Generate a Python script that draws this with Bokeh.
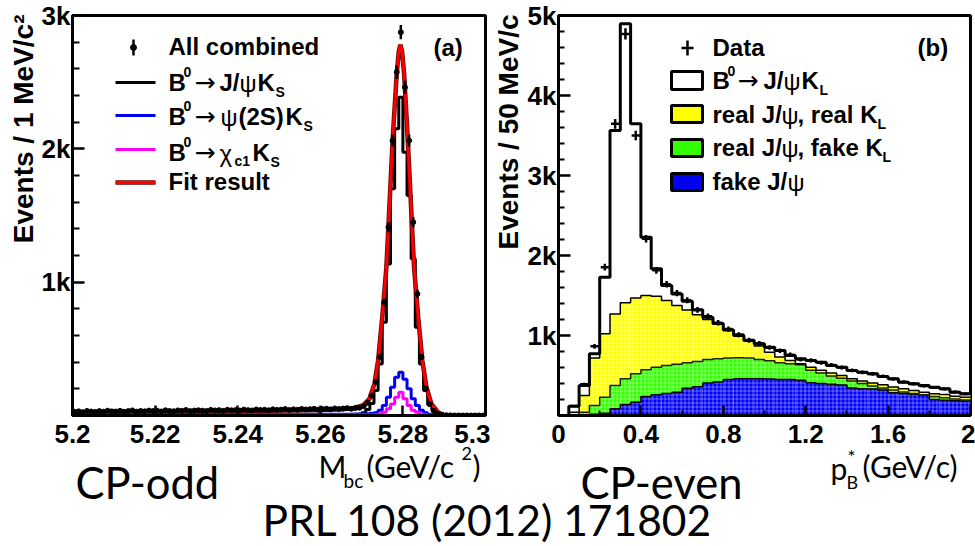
import numpy as np
from bokeh.plotting import figure
from bokeh.models import Range1d, FixedTicker, GridBox, Label, Row
from bokeh.embed import file_html
from bokeh.resources import INLINE

SANS = "Liberation Sans"
BODY = "Lato"
ARROW_FONT = "DejaVu Sans"

# ---------------- panel (a): M_bc of the CP-odd sample, 1 MeV bins ----------------
MBC_START = 5.200
MBC_BIN = 0.001

mbc_data = [
    28, 31, 25, 34, 30, 27, 33, 29, 36, 31,
    30, 35, 28, 33, 38, 29, 34, 31, 37, 33,
    36, 30, 39, 34, 32, 38, 35, 41, 33, 37,
    39, 36, 34, 42, 38, 40, 35, 43, 39, 41,
    37, 44, 40, 38, 45, 41, 43, 39, 46, 42,
    44, 48, 41, 46, 43, 49, 45, 47, 50, 44,
    48, 51, 46, 53, 49, 52, 55, 50, 56, 58,
    70, 95, 150, 250, 440, 850, 1412, 2062, 2575, 2875,
    2462, 2062, 1450, 912, 440, 200, 85, 35, 12, 5,
    2, 1, 0, 0, 0, 0, 0, 0, 0, 0,
]
mbc_jpsi_ks = [
    0, 0, 0, 0, 0, 0, 0, 0, 0, 0,
    0, 0, 0, 0, 0, 0, 0, 0, 0, 0,
    0, 0, 0, 0, 0, 0, 0, 0, 0, 0,
    0, 0, 0, 0, 0, 0, 0, 0, 0, 0,
    0, 0, 0, 0, 0, 0, 0, 0, 0, 0,
    0, 0, 0, 0, 0, 0, 0, 0, 0, 1,
    1, 1, 1, 1, 2, 2, 3, 4, 6, 10,
    20, 45, 90, 187, 387, 700, 1137, 1700, 2150, 2387,
    1975, 1650, 1175, 662, 387, 187, 80, 40, 15, 5,
    0, 0, 0, 0, 0, 0, 0, 0, 0, 0,
]
mbc_psi2s_ks = [
    8, 8, 8, 8, 8, 8, 8, 8, 8, 8,
    8, 8, 8, 8, 8, 8, 8, 8, 8, 8,
    8, 8, 8, 8, 8, 8, 8, 8, 8, 8,
    9, 9, 9, 9, 9, 9, 9, 9, 9, 9,
    9, 9, 9, 9, 9, 9, 9, 9, 9, 9,
    9, 9, 9, 9, 9, 9, 9, 9, 9, 9,
    10, 10, 10, 10, 10, 10, 10, 10, 11, 11,
    12, 14, 16, 20, 40, 75, 137, 212, 287, 325,
    272, 200, 125, 75, 40, 20, 10, 5, 2, 0,
    0, 0, 0, 0, 0, 0, 0, 0, 0, 0,
]
mbc_chic1_ks = [
    3, 3, 3, 3, 3, 3, 3, 3, 3, 3,
    3, 3, 3, 3, 3, 3, 3, 3, 3, 3,
    3, 3, 3, 3, 3, 3, 3, 3, 3, 3,
    3, 3, 3, 3, 3, 3, 3, 3, 3, 3,
    3, 3, 3, 3, 3, 3, 3, 3, 3, 3,
    3, 3, 3, 3, 3, 3, 3, 3, 3, 3,
    3, 3, 3, 3, 3, 3, 3, 3, 3, 3,
    3, 3, 4, 6, 12, 25, 50, 87, 137, 175,
    125, 75, 40, 25, 12, 6, 3, 1, 0, 0,
    0, 0, 0, 0, 0, 0, 0, 0, 0, 0,
]
fit_mbc = [5.200, 5.210, 5.220, 5.230, 5.240, 5.250, 5.260, 5.265, 5.268,
           5.2703, 5.2719, 5.2731, 5.2740, 5.2750, 5.2760, 5.2768, 5.2776,
           5.2785, 5.2790, 5.2794, 5.2798, 5.2803, 5.2811, 5.2819, 5.2827,
           5.2837, 5.2847, 5.2857, 5.2869, 5.2885, 5.2900, 5.3000]
fit_events = [20, 23, 26, 30, 33, 37, 42, 46, 55,
              75, 125, 237, 412, 737, 1112, 1612, 2112,
              2560, 2730, 2780, 2730, 2560, 2112, 1612, 1112,
              737, 412, 212, 87, 25, 0, 0]

mbc_tick_labels = ["5.2", "5.22", "5.24", "5.26", "5.28", "5.3"]
events_a_labels = ["1k", "2k", "3k"]
events_a_values = [1000, 2000, 3000]

# ---------------- panel (b): p_B* of the CP-even sample, 50 MeV bins ----------------
PB_START = 0.0
PB_BIN = 0.05

# stack tops, bin by bin
top_signal = [0, 115, 375, 771, 1729, 3562, 4896, 3646, 2229, 1833,
              1625, 1520, 1427, 1322, 1229, 1150, 1070, 1000, 937, 896,
              854, 812, 750, 708, 687, 667, 625, 604, 562, 542,
              521, 487, 458, 417, 396, 375, 354, 333, 292, 271]
top_real_real = [0, 40, 250, 720, 1021, 1270, 1410, 1470, 1500, 1490,
                 1437, 1375, 1320, 1260, 1200, 1140, 1075, 1015, 950, 870,
                 790, 730, 687, 646, 604, 565, 530, 500, 460, 432,
                 405, 385, 355, 335, 312, 292, 272, 262, 240, 228]
top_real_fake = [0, 10, 42, 125, 229, 375, 458, 521, 571, 604,
                 625, 640, 660, 675, 700, 710, 720, 722, 718, 700,
                 685, 660, 648, 635, 565, 530, 495, 465, 430, 400,
                 370, 345, 320, 295, 275, 255, 238, 222, 205, 195]
top_fake_jpsi = [0, 0, 5, 15, 29, 83, 137, 167, 237, 260,
                 275, 290, 340, 360, 405, 420, 450, 458, 460, 458,
                 455, 450, 450, 440, 410, 400, 390, 380, 345, 335,
                 330, 320, 285, 275, 265, 255, 200, 190, 185, 180]
pb_data = [0, 120, 390, 865, 1854, 3646, 4770, 3500, 2210, 1815,
           1640, 1530, 1440, 1320, 1240, 1160, 1080, 1010, 940, 900,
           850, 810, 760, 700, 690, 660, 630, 600, 565, 540,
           520, 490, 455, 420, 395, 370, 350, 330, 295, 270]

pb_tick_labels = ["0", "0.4", "0.8", "1.2", "1.6", "2"]
pb_minor_labels = ["0.2", "0.6", "1", "1.4", "1.8"]
events_b_labels = ["1k", "2k", "3k", "4k", "5k"]
events_b_values = [1000, 2000, 3000, 4000, 5000]

YELLOW = "#FFFF00"
GREEN = "#33FF00"
BLUE = "#0000F5"
RED = "#FF0000"
MAGENTA = "#FF00FF"

# page geometry (pixels): both frames share these top/bottom edges
PAGE_W, PAGE_H = 975, 546
LEFT_W = 490
FRAME_TOP, FRAME_BOTTOM = 15, 415
A_LEFT, A_RIGHT = 72, 485
B_LEFT, B_RIGHT = 558, 970


def step_outline(start, width, vals):
    """Histogram outline: rises from zero at the first edge, one flat step per bin."""
    xs = [start] + [start + i * width for i in range(len(vals))] + [start + len(vals) * width]
    ys = [0] + list(vals) + [vals[-1]]
    return xs, ys


def style_frame(p, y_minor_len):
    p.grid.visible = False
    p.outline_line_color = "black"
    p.outline_line_width = 3
    p.background_fill_color = "white"
    p.border_fill_color = None
    for ax in p.axis:
        ax.axis_line_width = 3
        ax.axis_line_color = "black"
        ax.major_tick_out = 0
        ax.minor_tick_out = 0
        ax.major_tick_line_width = 2.5
        ax.minor_tick_line_width = 2
        ax.major_label_text_font = SANS
        ax.major_label_text_font_style = "bold"
        ax.major_label_text_font_size = "26px"
        ax.major_label_text_color = "black"
    p.yaxis.major_tick_in = 12
    p.yaxis.minor_tick_in = y_minor_len
    p.yaxis.major_label_standoff = 2
    p.xaxis.major_tick_in = 10
    p.xaxis.minor_tick_in = 5
    p.xaxis.major_label_standoff = 9


# ---------------- panel (a) ----------------
p1 = figure(width=LEFT_W, height=PAGE_H, x_range=Range1d(5.2, 5.3), y_range=Range1d(0, 3000),
            output_backend="svg", toolbar_location=None,
            min_border_left=A_LEFT, min_border_right=LEFT_W - A_RIGHT,
            min_border_top=FRAME_TOP, min_border_bottom=PAGE_H - FRAME_BOTTOM)
style_frame(p1, 7)
mbc_ticks = [float(s) for s in mbc_tick_labels]
p1.xaxis.ticker = FixedTicker(ticks=mbc_ticks, minor_ticks=[])
p1.xaxis.major_label_overrides = dict(zip(mbc_ticks, mbc_tick_labels))
p1.yaxis.ticker = FixedTicker(ticks=events_a_values,
                              minor_ticks=[v for v in range(200, 3000, 200) if v % 1000])
p1.yaxis.major_label_overrides = dict(zip(events_a_values, events_a_labels))

for vals, col in [(mbc_jpsi_ks, "black"), (mbc_psi2s_ks, BLUE), (mbc_chic1_ks, MAGENTA)]:
    xs, ys = step_outline(MBC_START, MBC_BIN, vals)
    p1.step(xs, ys, mode="after", line_color=col, line_width=3)

p1.line(fit_mbc, fit_events, line_color="#700000", line_width=4.5)
p1.line(fit_mbc, fit_events, line_color=RED, line_width=2.8)

mbc_centres = [MBC_START + (i + 0.5) * MBC_BIN for i in range(len(mbc_data))]
d_a = np.array(mbc_data, dtype=float)
e_a = np.sqrt(d_a)
p1.segment(x0=mbc_centres, y0=d_a - e_a, x1=mbc_centres, y1=d_a + e_a,
           line_color="black", line_width=2.5)
p1.scatter(mbc_centres, mbc_data, size=5, color="black")

# ---------------- panel (b) ----------------
p2 = figure(width=PAGE_W - LEFT_W, height=PAGE_H, x_range=Range1d(0, 2), y_range=Range1d(0, 5000),
            output_backend="svg", toolbar_location=None,
            min_border_left=B_LEFT - LEFT_W, min_border_right=PAGE_W - B_RIGHT,
            min_border_top=FRAME_TOP, min_border_bottom=PAGE_H - FRAME_BOTTOM)
style_frame(p2, 6)
pb_ticks = [float(s) for s in pb_tick_labels]
p2.xaxis.ticker = FixedTicker(ticks=pb_ticks, minor_ticks=[float(s) for s in pb_minor_labels])
p2.xaxis.major_label_overrides = dict(zip(pb_ticks, pb_tick_labels))
p2.yaxis.ticker = FixedTicker(ticks=events_b_values,
                              minor_ticks=[v for v in range(200, 5000, 200) if v % 1000])
p2.yaxis.major_label_overrides = dict(zip(events_b_values, events_b_labels))

n_b = len(top_signal)
lefts = [PB_START + i * PB_BIN for i in range(n_b)]
rights = [x + PB_BIN for x in lefts]
hatch = dict(hatch_pattern="+", hatch_color="white", hatch_alpha=0.45,
             hatch_scale=4.0, hatch_weight=0.8)
p2.quad(left=lefts, right=rights, bottom=0, top=top_fake_jpsi,
        fill_color=BLUE, line_color=None, **hatch)
p2.quad(left=lefts, right=rights, bottom=top_fake_jpsi, top=top_real_fake,
        fill_color=GREEN, line_color=None, **hatch)
p2.quad(left=lefts, right=rights, bottom=top_real_fake, top=top_real_real,
        fill_color=YELLOW, line_color=None, **hatch)
p2.quad(left=lefts, right=rights, bottom=top_real_real, top=top_signal,
        fill_color="white", line_color=None)

for vals, col, w in [(top_fake_jpsi, "black", 1.5), (top_real_fake, "#202000", 1.5),
                     (top_real_real, "black", 1.5), (top_signal, "black", 3)]:
    xs, ys = step_outline(PB_START, PB_BIN, vals)
    p2.step(xs, ys, mode="after", line_color=col, line_width=w)

pb_centres = np.array([PB_START + (i + 0.5) * PB_BIN for i in range(n_b)])
d_b = np.array(pb_data, dtype=float)
keep = d_b > 0
e_b = np.sqrt(d_b)
p2.segment(x0=pb_centres[keep], y0=(d_b - e_b)[keep], x1=pb_centres[keep], y1=(d_b + e_b)[keep],
           line_color="black", line_width=2.5)
p2.segment(x0=pb_centres[keep] - 0.4 * PB_BIN, y0=d_b[keep],
           x1=pb_centres[keep] + 0.4 * PB_BIN, y1=d_b[keep],
           line_color="black", line_width=2.5)

# ---------------- page overlay: titles, legends, captions (page pixels, y down) ----------------
bg = figure(width=PAGE_W, height=PAGE_H,
            x_range=Range1d(0, PAGE_W), y_range=Range1d(PAGE_H, 0),
            output_backend="svg", toolbar_location=None,
            x_axis_location=None, y_axis_location=None, min_border=0,
            background_fill_color=None, border_fill_color=None, outline_line_color=None)
bg.grid.visible = False


def put(x, yc, s, size, font=SANS, style="bold", align="left", angle=0.0):
    """Place a text piece; yc is the vertical middle of the line of text."""
    bg.add_layout(Label(x=x, y=yc, text=s, text_font=font, text_font_size=f"{size}px",
                        text_font_style=style, text_align=align, text_baseline="middle",
                        angle=angle, text_color="black"))


def arrow(x, yc):
    put(x, yc, "\u2192", 25, font=ARROW_FONT, style="normal")


# axis titles (rotated, ending at the top of the frame)
put(23, 14, "Events / 1 MeV/c\u00b2", 28, align="right", angle=np.pi / 2)
put(508, 14, "Events / 50 MeV/c", 28, align="right", angle=np.pi / 2)

put(318, 465, "M", 30, font=BODY, style="normal")
put(343, 480, "bc", 19, font=BODY, style="normal")
put(366, 465, "(GeV/c", 30, font=BODY, style="normal")
put(461, 453, "2", 18, font=BODY, style="normal")
put(472, 465, ")", 30, font=BODY, style="normal")

put(830, 467, "p", 30, font=BODY, style="normal")
put(846, 481, "B", 18, font=BODY, style="normal")
put(847, 456, "*", 19, font=BODY, style="normal")
put(862, 465, "(GeV/c)", 30, font=BODY, style="normal")

# captions
put(75, 481, "CP-odd", 43.5, font=BODY, style="normal")
put(580, 481, "CP-even", 43.5, font=BODY, style="normal")
put(487, 519, "PRL 108 (2012) 171802", 42.5, font=BODY, style="normal", align="center")

# panel tags
put(433, 47, "(a)", 24)
put(917, 47, "(b)", 24)

# legend (a)
bg.segment(x0=[133], y0=[39], x1=[133], y1=[55], line_color="black", line_width=2.5)
bg.scatter([133], [47], size=6, color="black")
bg.segment(x0=[115] * 3, y0=[82, 115, 149], x1=[155] * 3, y1=[82, 115, 149],
           line_color=["black", BLUE, MAGENTA], line_width=3)
bg.segment(x0=[115], y0=[182], x1=[155], y1=[182], line_color="#700000", line_width=4.5)
bg.segment(x0=[115], y0=[182], x1=[155], y1=[182], line_color=RED, line_width=2.8)

put(168, 46, "All combined", 24)
# B0 -> J/psi K_S
put(168, 82, "B", 24); put(183, 71, "0", 14); arrow(194, 82)
put(219, 82, "J/", 24); put(239, 83, "\u03c8", 24, style="normal")
put(257, 82, "K", 24); put(275, 91, "S", 14)
# B0 -> psi(2S) K_S
put(168, 116, "B", 24); put(183, 105, "0", 14); arrow(194, 116)
put(220, 117, "\u03c8", 24, style="normal")
put(238, 116, "(2S)", 24); put(285, 116, "K", 24); put(303, 125, "S", 14)
# B0 -> chi_c1 K_S
put(168, 152, "B", 24); put(183, 141, "0", 14); arrow(194, 152)
put(219, 153, "\u03c7", 24, style="normal")
put(234, 160, "c1", 14); put(252, 152, "K", 24); put(270, 161, "S", 14)
put(168, 181, "Fit result", 24)

# legend (b)
bg.segment(x0=[687, 681], y0=[40, 47.5], x1=[687, 693], y1=[55, 47.5],
           line_color="black", line_width=2.5)
bg.quad(left=[671] * 4, right=[702] * 4, top=[71, 105, 139, 173], bottom=[89, 122, 156, 190],
        fill_color=["white", YELLOW, GREEN, BLUE], line_color="black", line_width=3)
put(712, 47, "Data", 24)
put(712, 80, "B", 24); put(727, 70, "0", 14); arrow(737, 80)
put(763, 80, "J/", 24); put(783, 81, "\u03c8", 24, style="normal")
put(801, 80, "K", 24); put(819, 89, "L", 14)
put(712, 114, "real J/", 24); put(781, 115, "\u03c8", 24, style="normal")
put(797, 114, ", real K", 24); put(877, 123, "L", 14)
put(712, 147, "real J/", 24); put(781, 148, "\u03c8", 24, style="normal")
put(797, 147, ", fake K", 24); put(882, 156, "L", 14)
put(712, 181, "fake J/", 24); put(787, 182, "\u03c8", 24, style="normal")

panels = Row(children=[p1, p2], spacing=0)
page = GridBox(children=[(panels, 0, 0), (bg, 0, 0)])

with open("out.html", "w") as f:
    f.write(file_html(page, INLINE, title="CP-odd / CP-even samples"))
